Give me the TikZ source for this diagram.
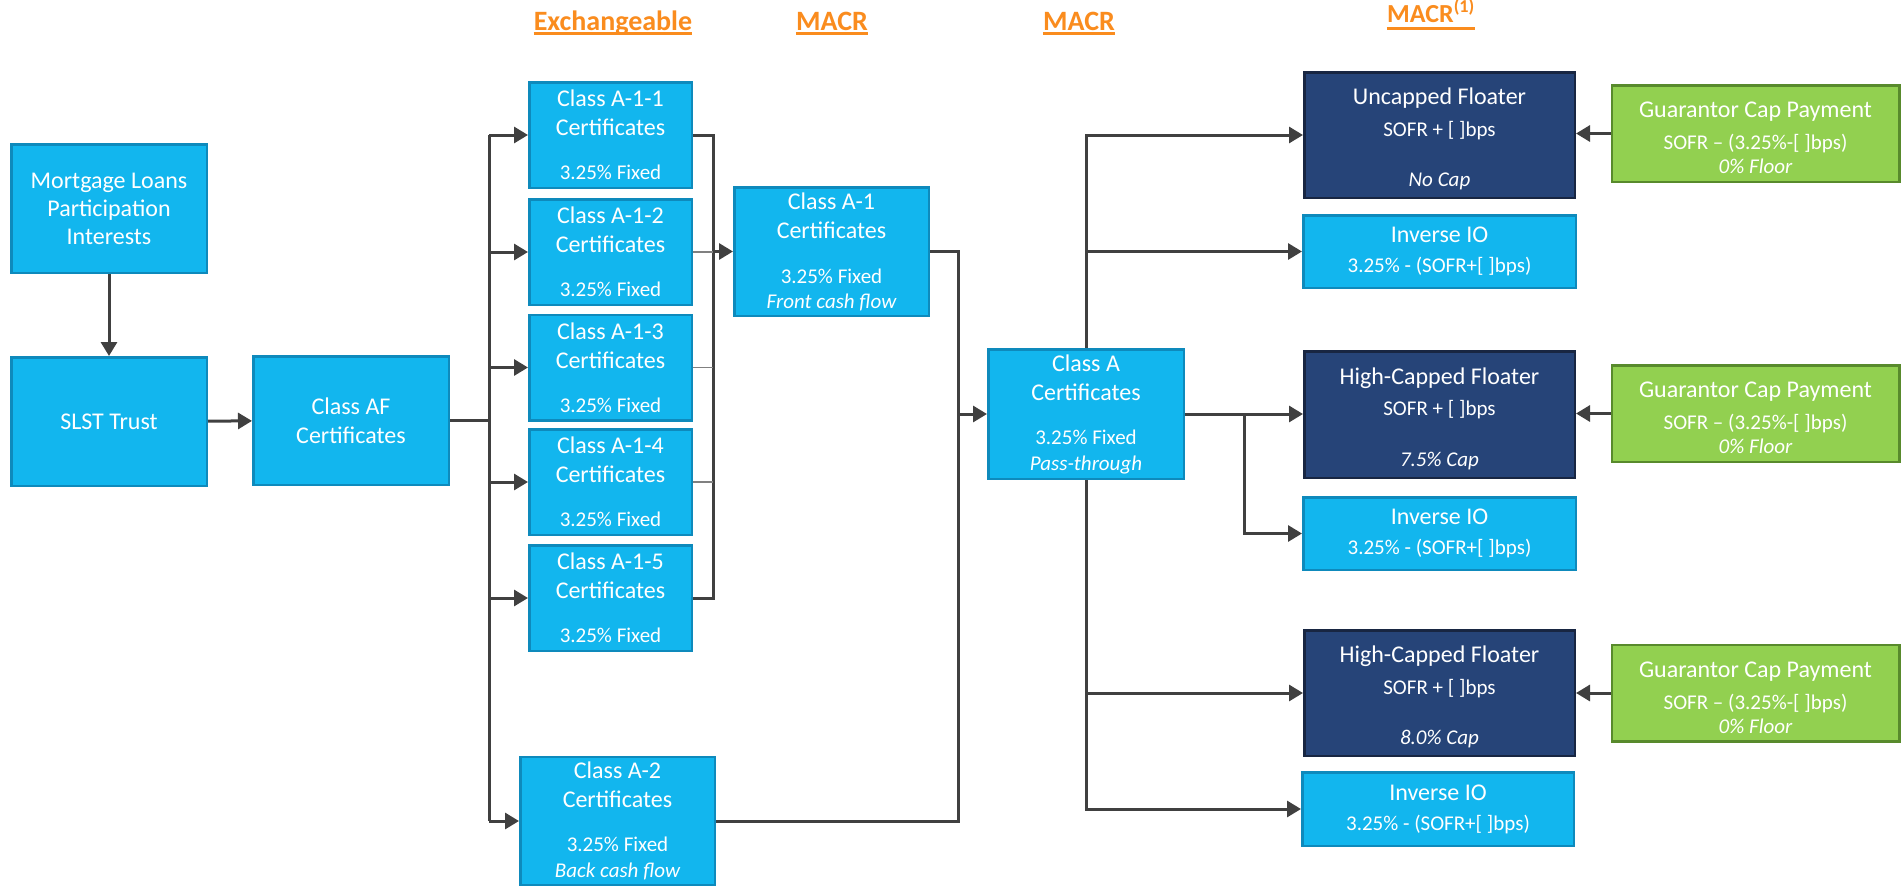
\documentclass[tikz,border=0pt]{standalone}
\usepackage{fontspec}
\setmainfont{Carlito}
\usetikzlibrary{arrows.meta,calc}
\definecolor{lb}{RGB}{18,182,238}
\definecolor{lbB}{RGB}{14,138,188}
\definecolor{nv}{RGB}{38,68,120}
\definecolor{nvB}{RGB}{24,38,66}
\definecolor{gr}{RGB}{146,208,80}
\definecolor{grB}{RGB}{88,138,44}
\definecolor{ln}{RGB}{64,64,64}
\definecolor{org}{RGB}{250,140,30}
\newcommand\subtxt{\fontsize{21}{25}\selectfont}
\newcommand\lift{\rule{0pt}{25pt}}
\tikzset{
  box/.style={draw=lbB, fill=lb, line width=2.5pt, text=white, align=center,
    inner sep=0pt, font=\fontsize{24}{29}\selectfont},
  navybox/.style={box, draw=nvB, fill=nv},
  greenbox/.style={box, draw=grB, fill=gr},
  conn/.style={draw=ln, line width=3pt},
  arr/.style={conn, -{Triangle[length=14pt,width=16pt]}},
  thinln/.style={draw=gray, line width=1.2pt},
  hdr/.style={text=org, font=\fontsize{28}{33}\selectfont\bfseries, inner sep=0pt, anchor=base},
  uline/.style={draw=org, line width=2.5pt},
}
\begin{document}
\begin{tikzpicture}[x=1pt,y=-1pt]
\useasboundingbox[fill=white] (0,0) rectangle (1901,886);
% headers
\node[hdr] (h1) at (613,30) {Exchangeable};
\node[hdr] (h2) at (832,30) {MACR};
\node[hdr] (h3) at (1079,30) {MACR};
\node[hdr, font=\fontsize{26}{31}\selectfont\bfseries] (h4) at (1431,22) {MACR\textsuperscript{(1)}};
\foreach \h/\d in {h1/3.5,h2/3.5,h3/3.5,h4/6.5} {
  \draw[uline] ($(\h.base west)+(0,\d)$) -- ($(\h.base east)+(0,\d)$);
}
% left boxes
\node[box, minimum width=195.5pt, minimum height=128.5pt] (mort) at (109,208.5)
  {Mortgage Loans\\[-1pt]Participation\\[-1pt]Interests};
\node[box, minimum width=195.5pt, minimum height=128.5pt] (slst) at (109,421.5) {SLST Trust};
\node[box, minimum width=195.5pt, minimum height=128.5pt] (af) at (351,420.5) {Class AF\\Certificates};
% A-1-x
\foreach \n/\y in {1/135,2/252,3/367.5,4/482,5/598} {
  \node[box, minimum width=162.5pt, minimum height=105.5pt] (a1\n) at (610.5,\y)
    {Class A-1-\n\\Certificates\\[15pt]{\subtxt 3.25\% Fixed}};
}
\node[box, minimum width=194.5pt, minimum height=128.5pt] (a2) at (617.5,821)
  {Class A-2\\Certificates\\[15pt]{\subtxt 3.25\% Fixed}\\[-3pt]{\subtxt\itshape Back cash flow}};
\node[box, minimum width=194.5pt, minimum height=128.5pt] (a1) at (831.5,251.5)
  {Class A-1\\Certificates\\[16pt]{\subtxt 3.25\% Fixed}\\[-4pt]{\subtxt\itshape Front cash flow}};
\node[box, minimum width=195.5pt, minimum height=129.5pt] (ca) at (1086,414)
  {Class A\\Certificates\\[15pt]{\subtxt 3.25\% Fixed}\\[-3pt]{\subtxt\itshape Pass-through}};
% right column
\node[navybox, minimum width=270.5pt, minimum height=125.5pt] (unc) at (1439.5,135)
  {\lift Uncapped Floater\\[3pt]{\subtxt SOFR + [ ]bps}\\[21pt]{\subtxt\itshape No Cap}};
\node[box, minimum width=272.5pt, minimum height=72.5pt] (io1) at (1439.5,251.5)
  {Inverse IO\\[1pt]{\subtxt 3.25\% - (SOFR+[ ]bps)}};
\node[navybox, minimum width=270.5pt, minimum height=126.5pt] (hc1) at (1439.5,414.5)
  {\lift High-Capped Floater\\[2pt]{\subtxt SOFR + [ ]bps}\\[22pt]{\subtxt\itshape 7.5\% Cap}};
\node[box, minimum width=272.5pt, minimum height=72.5pt] (io2) at (1439.5,533.5)
  {Inverse IO\\[1pt]{\subtxt 3.25\% - (SOFR+[ ]bps)}};
\node[navybox, minimum width=270.5pt, minimum height=125.5pt] (hc2) at (1439.5,693)
  {\lift High-Capped Floater\\[3pt]{\subtxt SOFR + [ ]bps}\\[21pt]{\subtxt\itshape 8.0\% Cap}};
\node[box, minimum width=271.5pt, minimum height=73.5pt] (io3) at (1438,809)
  {Inverse IO\\[1pt]{\subtxt 3.25\% - (SOFR+[ ]bps)}};
\foreach \n/\y in {1/133.5,2/413.5,3/693} {
  \node[greenbox, minimum width=287.5pt, minimum height=96.5pt] (g\n) at (1755.5,\y)
    {\lift Guarantor Cap Payment\\[3pt]{\subtxt SOFR -- (3.25\%-[ ]bps)}\\[-5pt]{\subtxt\itshape 0\% Floor}};
}
% helper coordinates
\coordinate (tr) at (489,0);
\coordinate (co) at (713,0);
\coordinate (cb) at (958,0);
\coordinate (cc) at (1244,0);
% connectors
\draw[arr] (mort) -- (slst);
\draw[arr] (slst) -- (af);
\draw[conn] (af.east) -- (tr |- af.east);
\draw[conn] (tr |- a11.west) -- (tr |- a2.west);
\foreach \n in {11,12,13,14,15,2} { \draw[arr] (tr |- a\n.west) -- (a\n.west); }
\draw[conn] (a11.east) -| (co |- a15.east) -- (a15.east);
\foreach \n in {12,13,14} { \draw[thinln] (a\n.east) -- (co |- a\n.east); }
\draw[arr] (co |- a1.west) -- (a1.west);
\draw[conn] (a1.east) -| (cb |- ca.west);
\draw[conn] (a2.east) -| (cb |- ca.west);
\draw[arr] (cb |- ca.west) -- (ca.west);
\draw[arr] (ca.north) |- (unc.west);
\draw[arr] (ca.north |- io1.west) -- (io1.west);
\draw[arr] (ca.east) -- (hc1.west |- ca.east);
\draw[arr] (cc |- ca.east) |- (io2.west);
\draw[arr] (ca.south) |- (io3.west);
\draw[arr] (ca.south |- hc2.west) -- (hc2.west);
\foreach \g/\t in {g1/unc,g2/hc1,g3/hc2} { \draw[arr] (\g.west) -- (\t.east |- \g.west); }
\end{tikzpicture}
\end{document}
